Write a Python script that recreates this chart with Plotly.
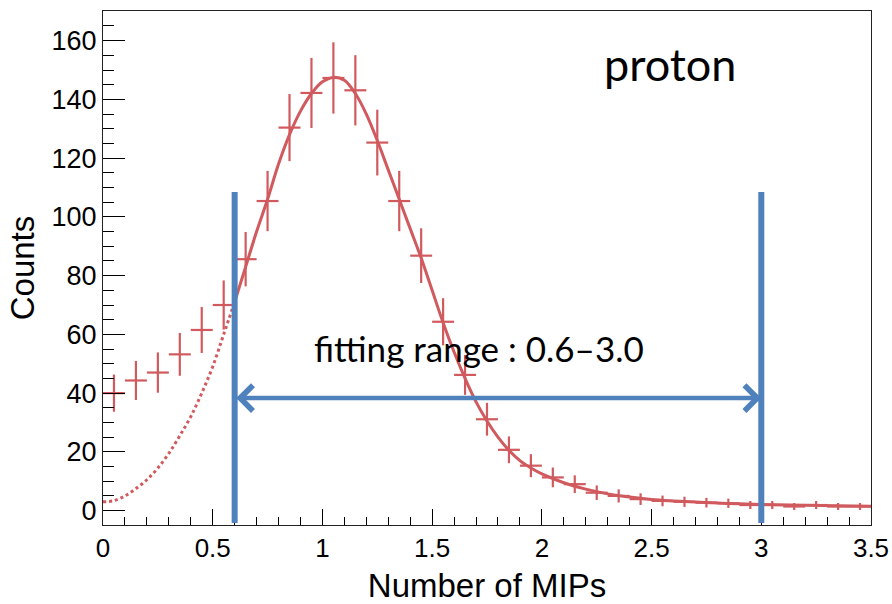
import numpy as np
import plotly.graph_objects as go

# ---- data ----
bin_centers = [0.05, 0.15, 0.25, 0.35, 0.45, 0.55, 0.65, 0.75, 0.85, 0.95,
               1.05, 1.15, 1.25, 1.35, 1.45, 1.55, 1.65, 1.75, 1.85, 1.95,
               2.05, 2.15, 2.25, 2.35, 2.45, 2.55, 2.65, 2.75, 2.85, 2.95,
               3.05, 3.15, 3.25, 3.35, 3.45]
counts = [40.0, 44.3, 47.0, 53.2, 61.5, 70.0, 85.6, 105.4, 130.4, 142.2,
          147.3, 143.1, 125.3, 105.4, 86.8, 64.3, 46.2, 31.1, 20.7, 15.3,
          11.3, 9.0, 6.1, 5.0, 3.9, 3.3, 3.0, 2.7, 2.5, 1.9,
          1.9, 1.4, 1.9, 1.4, 1.4]
bin_half_width = 0.05

# fitted function
fit_x_in = [0.6, 0.65, 0.7, 0.75, 0.8, 0.85, 0.9, 0.95, 1.0, 1.05, 1.1, 1.15,
            1.2, 1.25, 1.3, 1.35, 1.4, 1.45, 1.5, 1.55, 1.6, 1.65, 1.7, 1.75,
            1.8, 1.85, 1.9, 1.95, 2.0, 2.1, 2.2, 2.3, 2.4, 2.5, 2.6, 2.7, 2.8,
            2.9, 3.0, 3.2, 3.5]
fit_y_in = [71, 83, 95, 106, 118, 128, 136, 142, 146, 147.5, 146.5, 142,
            135, 126, 116, 106, 96, 86, 75, 64, 54, 45, 37, 30.5,
            25, 20.5, 17, 14.5, 12.5, 9.5, 7.3, 5.7, 4.6, 3.8, 3.3, 2.9, 2.6,
            2.3, 2.1, 1.8, 1.5]
fit_x_out = [0.0, 0.05, 0.1, 0.15, 0.2, 0.25, 0.3, 0.35, 0.4, 0.45, 0.5, 0.55, 0.6]
fit_y_out = [3.0, 3.4, 5.0, 7.5, 10.5, 14.5, 19.5, 25.5, 32, 40, 49, 60, 71]

fit_range = [0.6, 3.0]
range_marker_y = [-4.2, 108.5]
arrow_y = 38.3

RED = "#D05A5E"
BLUE = "#4F81BD"

errs = list(np.sqrt(np.array(counts)))

fig = go.Figure()

fig.add_trace(go.Scatter(
    x=fit_x_out, y=fit_y_out, mode="lines", line_shape="spline",
    line=dict(color=RED, width=3, dash="dot"), hoverinfo="skip", showlegend=False))
fig.add_trace(go.Scatter(
    x=fit_x_in, y=fit_y_in, mode="lines", line_shape="spline",
    line=dict(color=RED, width=3), hoverinfo="skip", showlegend=False))
fig.add_trace(go.Scatter(
    x=bin_centers, y=counts, mode="markers",
    marker=dict(size=1, color=RED),
    error_y=dict(type="data", array=errs, width=0, thickness=2.2, color=RED),
    error_x=dict(type="constant", value=bin_half_width, width=0, thickness=2.2, color=RED),
    showlegend=False))

# fitting range markers
for xv in fit_range:
    fig.add_shape(type="line", xref="x", yref="y", x0=xv, x1=xv,
                  y0=range_marker_y[0], y1=range_marker_y[1],
                  line=dict(color=BLUE, width=6), layer="above")

fig.add_annotation(x=fit_range[1], y=arrow_y, ax=fit_range[0], ay=arrow_y,
                   xref="x", yref="y", axref="x", ayref="y", text="",
                   showarrow=True, arrowhead=4, startarrowhead=4,
                   arrowside="end+start", arrowwidth=4.5, arrowsize=1.1,
                   startarrowsize=1.1, arrowcolor=BLUE)

fig.add_annotation(x=0.49, y=0.344, xref="paper", yref="paper",
                   xanchor="center", yanchor="middle",
                   text="fitting range : 0.6\u20133.0", showarrow=False,
                   font=dict(family="Lato", size=35, color="black"))
fig.add_annotation(x=0.738, y=0.897, xref="paper", yref="paper",
                   xanchor="center", yanchor="middle",
                   text="proton", showarrow=False,
                   font=dict(family="Lato", size=45, color="black"))

axis_font = dict(family="Liberation Sans", size=26, color="black")
title_font = dict(family="Liberation Sans", size=33, color="black")

fig.update_xaxes(range=[0, 3.5], dtick=0.5, tick0=0, ticks="inside", ticklen=16,
                 tickwidth=1, tickcolor="black", automargin=False,
                 minor=dict(dtick=0.1, ticklen=8, ticks="inside", tickcolor="black", tickwidth=1),
                 showline=True, linecolor="#222", linewidth=1.3, mirror=True,
                 showgrid=False, zeroline=False, tickfont=axis_font,
                 title=dict(text="Number of MIPs", font=title_font, standoff=14))
fig.update_yaxes(range=[-4.9, 170.1], dtick=20, tick0=0, ticks="inside", ticklen=22,
                 tickwidth=1, tickcolor="black", automargin=False,
                 minor=dict(dtick=5, ticklen=11, ticks="inside", tickcolor="black", tickwidth=1),
                 showline=True, linecolor="#222", linewidth=1.3, mirror=True,
                 showgrid=False, zeroline=False, tickfont=dict(family="Liberation Sans", size=27, color="black"),
                 title=dict(text="Counts", font=title_font, standoff=6))

fig.update_layout(width=892, height=604, margin=dict(l=103, r=21, t=11, b=79),
                  paper_bgcolor="white", plot_bgcolor="white")

fig.write_html("out.html")
